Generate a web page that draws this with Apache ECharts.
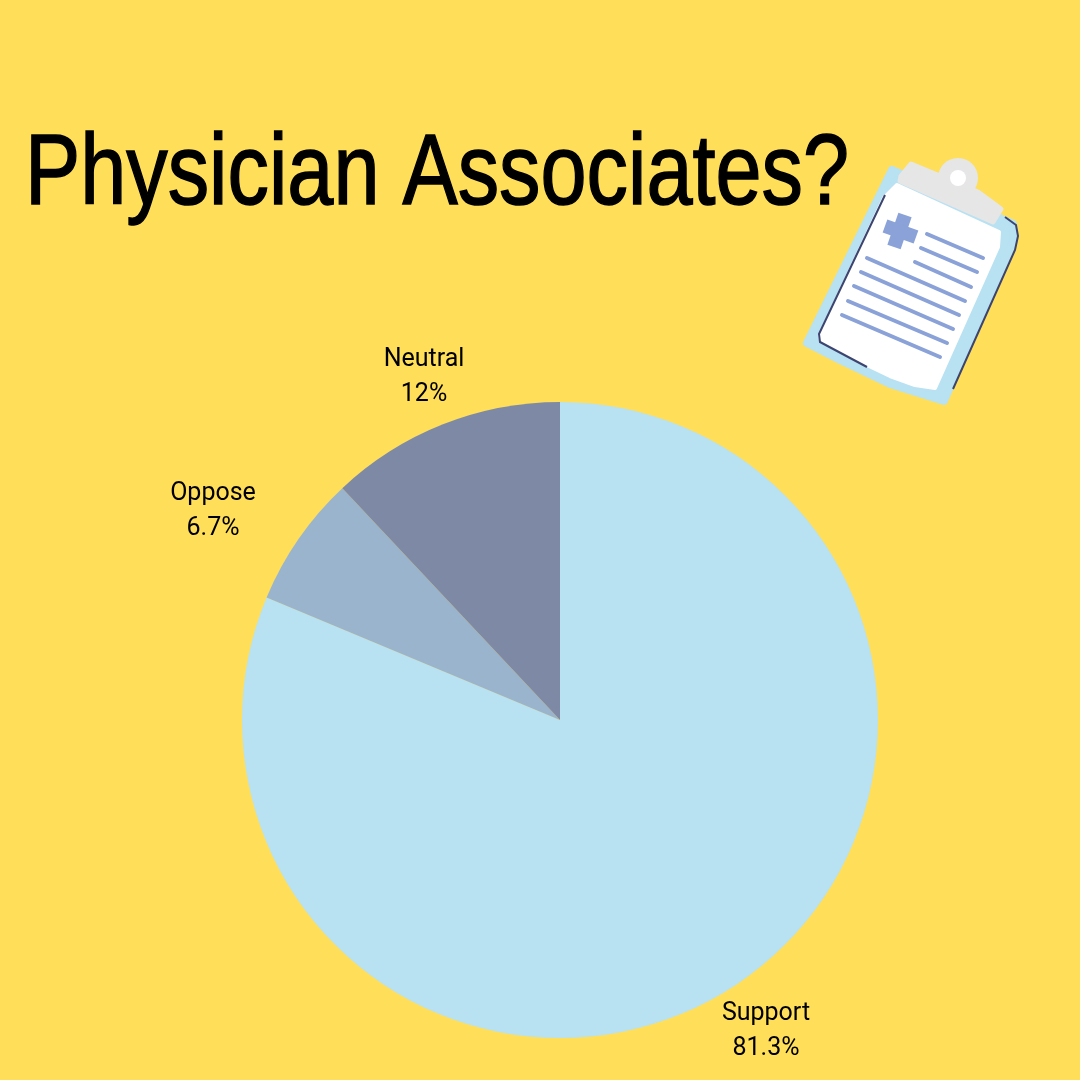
<!DOCTYPE html>
<html>
<head>
<meta charset="utf-8">
<title>Physician Associates?</title>
<style>
  html, body { margin: 0; padding: 0; background: #ffde59; }
  #chart { width: 1080px; height: 1080px; }
</style>
<script src="https://cdn.jsdelivr.net/npm/echarts@6/dist/echarts.min.js"></script>
</head>
<body>
<div id="chart"></div>
<script>
var categories = ["Support", "Oppose", "Neutral"];
var values = [81.3, 6.7, 12];
var colors = ["#b8e1f2", "#9ab4cd", "#7e89a6"];
var titleText = "Physician Associates?";

// label centres, in page pixels
var labelX = [766, 213, 424];
var labelY = [1031, 511, 377];

var chart = echarts.init(document.getElementById("chart"));

var pieData = [];
for (var i = 0; i < categories.length; i++) {
    pieData.push({ name: categories[i], value: values[i], itemStyle: { color: colors[i] } });
}

var BLUE = "#b8e1f2", GREY = "#e6e6e6", INK = "#3c4470", LINE = "#8aa2d8";

// clipboard picture, in page pixels
var board = {
    type: "group",
    silent: true,
    children: [
        // backing board, the stroke rounds its corners
        { type: "polygon", shape: { points: [[892, 170], [1013, 224], [1014, 240], [944, 401], [890, 384], [840, 360], [807, 343]] },
          style: { fill: BLUE, stroke: BLUE, lineWidth: 8, lineJoin: "round" } },
        // sheet
        { type: "polygon", shape: { points: [[897, 185], [999, 232], [998, 247], [935, 388], [915, 385], [890, 376], [867, 365], [821, 340], [820, 335], [884, 198]] },
          style: { fill: "#ffffff", stroke: "#ffffff", lineWidth: 4, lineJoin: "round" } },
        // dark edges
        { type: "polyline", shape: { points: [[885, 195], [819, 334], [820, 342], [867, 367]] },
          style: { fill: null, stroke: INK, lineWidth: 2 } },
        { type: "polyline", shape: { points: [[1005, 217], [1016, 225], [1018, 236], [1015, 250], [953, 389]] },
          style: { fill: null, stroke: INK, lineWidth: 2 } },
        // clip
        { type: "polygon", shape: { points: [[911, 164], [940, 176], [978, 192], [1001, 209], [993, 222], [900, 181], [901, 176]] },
          style: { fill: GREY, stroke: GREY, lineWidth: 5, lineJoin: "round" } },
        { type: "circle", shape: { cx: 958, cy: 178, r: 20 }, style: { fill: GREY } },
        { type: "circle", shape: { cx: 958, cy: 178, r: 8 }, style: { fill: "#ffffff" } },
        // cross
        { type: "line", shape: { x1: 905, y1: 215, x2: 894, y2: 247 }, style: { stroke: LINE, lineWidth: 14 } },
        { type: "line", shape: { x1: 885, y1: 226, x2: 916, y2: 237 }, style: { stroke: LINE, lineWidth: 14 } }
    ]
};
var rows = [
    [927, 234, 983, 258], [921, 248, 977, 272], [915, 262, 971, 287],
    [867, 258, 965, 301], [861, 272, 959, 315], [854, 286, 953, 329],
    [848, 301, 947, 343], [842, 315, 940, 357]
];
for (var r = 0; r < rows.length; r++) {
    board.children.push({
        type: "line",
        shape: { x1: rows[r][0], y1: rows[r][1], x2: rows[r][2], y2: rows[r][3] },
        style: { stroke: LINE, lineWidth: 4, lineCap: "round" }
    });
}

chart.setOption({
    backgroundColor: "#ffde59",
    animation: false,
    graphic: [
        board,
        {
            // no narrow face installed, so squeeze the sans and thicken it a bit
            type: "text",
            silent: true,
            x: 25,
            y: 176,
            scaleX: 0.82,
            style: {
                text: titleText,
                fontFamily: "Liberation Sans",
                fontSize: 101,
                fill: "#000000",
                stroke: "#000000",
                lineWidth: 1.5,
                verticalAlign: "middle"
            }
        }
    ],
    series: [{
        type: "pie",
        center: [560, 720],
        radius: [0, 318],
        startAngle: 90,
        clockwise: true,
        data: pieData,
        label: {
            show: true,
            position: "outside",
            formatter: function (p) { return p.name + "\n" + p.value + "%"; },
            fontFamily: "Roboto",
            fontSize: 25,
            lineHeight: 35,
            color: "#000000"
        },
        labelLine: { show: false },
        labelLayout: function (p) {
            return { x: labelX[p.dataIndex], y: labelY[p.dataIndex], align: "center", verticalAlign: "middle" };
        }
    }]
});
</script>
</body>
</html>
